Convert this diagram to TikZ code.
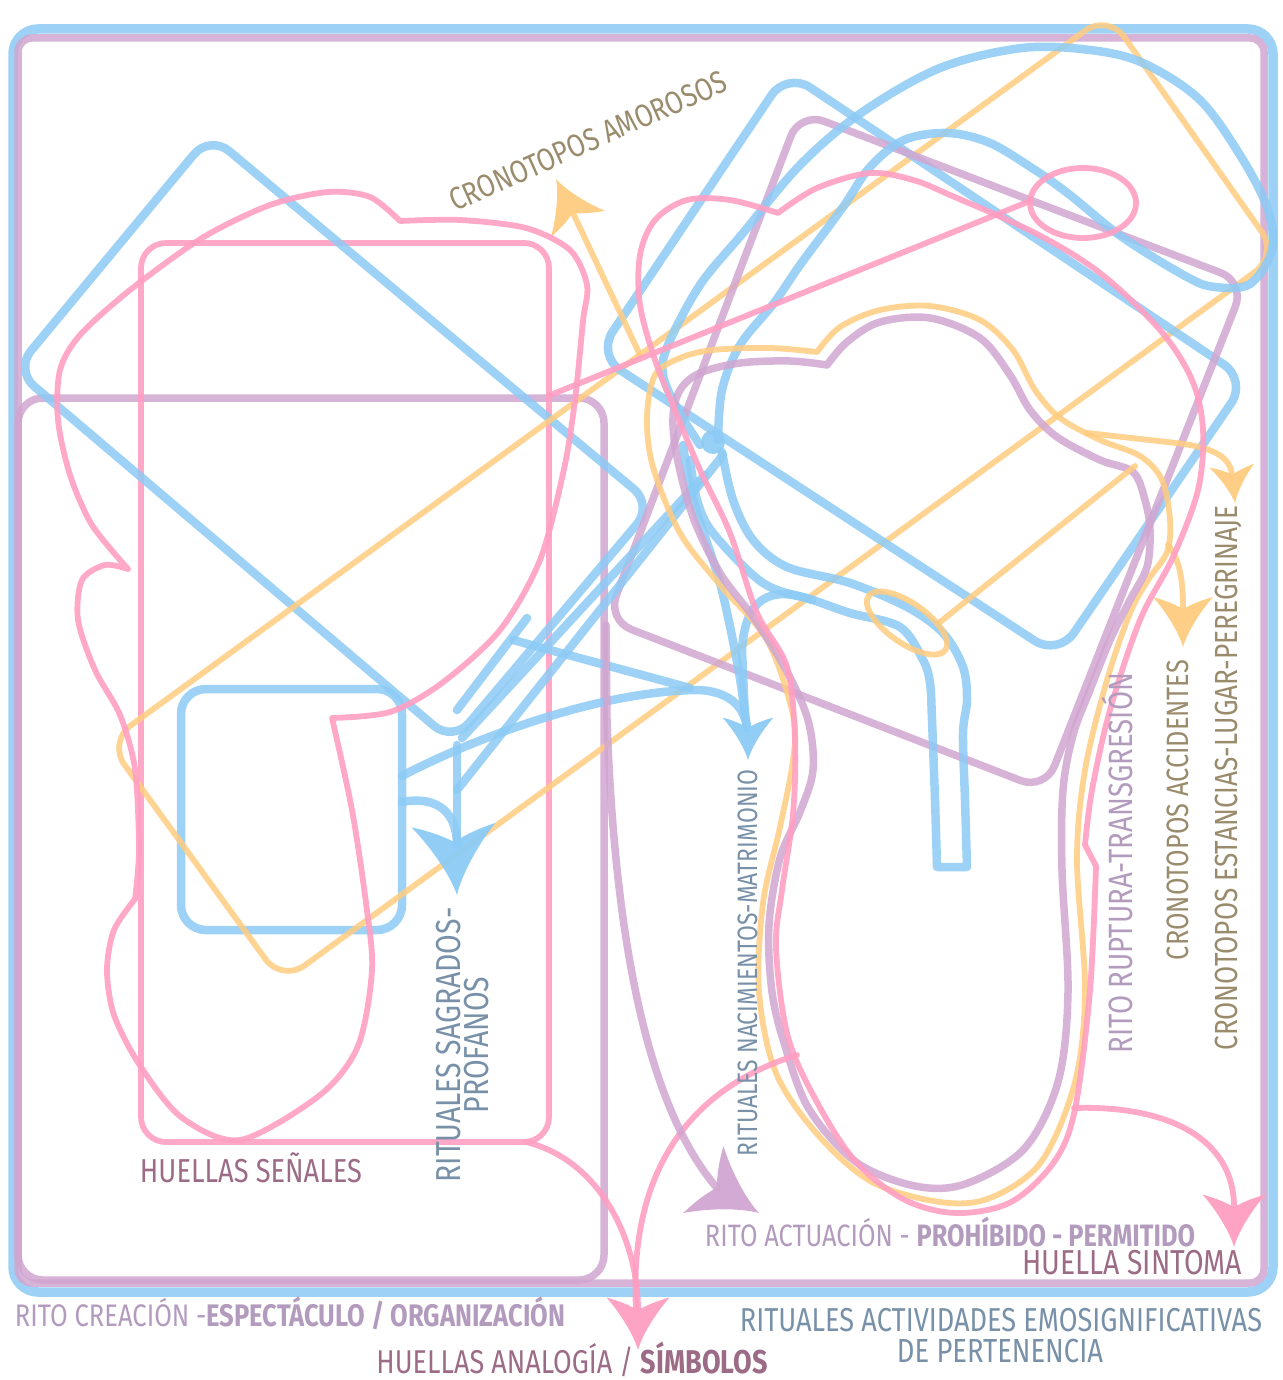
\documentclass[tikz,border=0pt]{standalone}
\usepackage{fontspec}
\setmainfont[FakeStretch=0.82]{Fira Sans}
\usepackage{graphicx}
\definecolor{cBlue}{HTML}{8CCBF5}
\definecolor{cPink}{HTML}{FF9FC2}
\definecolor{cPurp}{HTML}{D1A6D1}
\definecolor{cOrng}{HTML}{FFCC80}
\definecolor{tBrown}{HTML}{9A8B6C}
\definecolor{tBlue}{HTML}{7891A8}
\definecolor{tPurp}{HTML}{B39BBE}
\definecolor{tMauve}{HTML}{9C6C86}
\newcommand\ahd[4]{\fill[#3,fill opacity=0.95,shift={#1},rotate=#2,scale=#4] (0,0) .. controls (-14,-4) and (-34,-16) .. (-50,-30) .. controls (-45,-12) and (-40,-4) .. (-38,0) .. controls (-40,4) and (-45,12) .. (-50,30) .. controls (-34,16) and (-14,4) .. (0,0) -- cycle;}
\newcommand\fitt[2]{\resizebox{#1}{!}{#2}}
\begin{document}
\begin{tikzpicture}[x=1pt,y=-1pt,line cap=round,line join=round,
  bl/.style={draw=cBlue,line width=8.5pt,draw opacity=0.85},
  pu/.style={draw=cPurp,line width=7.5pt,draw opacity=0.85},
  pk/.style={draw=cPink,line width=5.8pt,draw opacity=0.9},
  og/.style={draw=cOrng,line width=5.8pt,draw opacity=0.85},
  lbl/.style={inner sep=0pt,outer sep=0pt}]
\useasboundingbox (0,0) rectangle (1282,1380);
\fill[white] (0,0) rectangle (1282,1380);

% outer frames
\draw[bl,line width=9.5pt,rounded corners=25pt] (13,29) rectangle (1273,1292);
\draw[pu,rounded corners=14pt] (18,38) rectangle (1264,1283);
% purple left box
\draw[pu,rounded corners=25pt] (18,398) rectangle (604,1280);
% pink rectangle
\draw[pk,rounded corners=25pt] (141,243) rectangle (549,1142);
% small blue box
\draw[bl,rounded corners=25pt] (181,689) rectangle (402,930);
% left blue rotated rectangle
\draw[bl,rounded corners=25pt] (431,320) -- (653,505) -- (453,742) -- (15,370) -- (210,135) -- cycle;
% orange big rotated rectangle
\draw[og,rounded corners=28pt] (608,378) -- (1108,14) -- (1278,255) -- (282,982) -- (108,742) -- cycle;
% right blue rotated rectangle
\draw[bl,rounded corners=28pt] (1017,226) -- (1247,380) -- (1058,656) -- (597,355) -- (787,72) -- cycle;
% purple right rotated rectangle
\draw[pu,rounded corners=26pt] (1022,197) -- (1245,282) -- (1045,790) -- (607,620) -- (800,112) -- cycle;

% big blue loop
\draw[bl] plot[smooth,tension=0.55] coordinates {(700,445) (678,410) (663,375) (668,345) (700,285) (743,233) (800,165) (861,113) (940,68) (1022,48) (1090,50) (1143,63) (1200,100) (1243,160) (1268,210) (1272,250) (1250,284) (1215,287) (1187,277) (1122,237) (1070,195) (1035,170) (990,143) (948,133) (904,140) (870,167) (843,207) (800,265) (774,303) (740,345) (722,390) (718,440)};
% blue hairpin tube
\draw[bl] plot[smooth,tension=0.55] coordinates {(722,452) (733,500) (753,540) (787,567) (850,583) (907,607) (943,633) (963,667) (967,700) (963,733) (965,800) (967,867)} -- (937,867) -- plot[smooth,tension=0.55] coordinates {(937,867) (935,800) (932,720) (930,683) (923,660) (900,627) (850,613) (813,600) (763,583) (713,533) (697,500) (690,460)};
\draw[bl] (812,600) .. controls (770,585) and (745,598) .. (742,650) -- (745,718);
\fill[cBlue,fill opacity=0.9] (713,442) circle (12);

% blue arrow lines (rituales)
\coordinate (tipNac) at (748,760);
\coordinate (tipSag) at (457,895);
\draw[bl] plot[smooth,tension=0.5] coordinates {(683,445) (693,500) (720,583) (738,667) (747,728)};
\draw[bl] (402,776) .. controls (470,740) and (600,690) .. (700,690) .. controls (728,692) and (744,705) .. (747,728);
\draw[bl] (513,640) -- (690,688);
\draw[bl] (527,618) -- (457,710);
\draw[bl] (462,738) -- (705,475);
\draw[bl] (457,790) -- (723,455);
\draw[bl] (457,745) -- (457,845);
\draw[bl] (402,802) .. controls (440,795) and (457,815) .. (457,845);
\ahd{(tipSag)}{-87}{cBlue}{1.4}
\ahd{(tipNac)}{-90}{cBlue}{0.85}

% orange tongue
\draw[og] plot[smooth,tension=0.55] coordinates {(817,352) (840,327) (880,310) (930,306) (980,320) (1013,350) (1035,390) (1060,418) (1100,440) (1140,456) (1162,480) (1170,520) (1167,552) (1148,580) (1130,613) (1107,680) (1085,770) (1077,860) (1085,990) (1075,1082) (1041,1162) (990,1198) (940,1202) (872,1182) (818,1135) (776,1073) (759,992) (763,903) (780,827) (793,760) (793,715) (767,640) (720,585) (680,533) (653,467) (647,417) (655,375) (680,358) (713,350) (770,348) (817,352)} -- cycle;
% purple tongue
\draw[pu] plot[smooth,tension=0.55] coordinates {(827,365) (847,342) (880,322) (930,318) (980,338) (1010,375) (1030,410) (1057,437) (1100,460) (1133,472) (1145,500) (1150,530) (1147,567) (1130,600) (1110,640) (1090,690) (1073,735) (1063,790) (1062,870) (1068,992) (1058,1082) (1024,1149) (965,1184) (915,1186) (856,1162) (809,1109) (785,1046) (772,992) (769,925) (780,858) (800,812) (813,770) (808,720) (785,668) (753,617) (720,573) (693,517) (677,457) (673,417) (680,390) (700,373) (740,363) (790,361) (827,365)} -- cycle;

% orange extras
\coordinate (tipAmor) at (556,179);
\coordinate (tipAcc) at (1183,647);
\coordinate (tipEst) at (1235,503);
\draw[og] (640,355) -- (573,213);
\ahd{(tipAmor)}{116}{cOrng}{1}
\draw[og] (1087,433) -- (1167,442) .. controls (1210,446) and (1230,455) .. (1232,475);
\ahd{(tipEst)}{-85}{cOrng}{0.75}
\draw[og] (1168,545) .. controls (1180,560) and (1183,580) .. (1183,609);
\ahd{(tipAcc)}{-90}{cOrng}{1}
\draw[og] (1135,466) -- (940,622);
\draw[og,rotate around={-35:(907,623)}] (907,623) ellipse [x radius=47,y radius=20];

% pink right shape
\draw[pk] plot[smooth,tension=0.55] coordinates {(778,213) (817,188) (870,173) (913,180) (950,195) (1035,233) (1100,273) (1160,330) (1192,380) (1203,430) (1198,490) (1173,557) (1140,620) (1110,710) (1092,790) (1085,845)} -- (1096,866) -- plot[smooth,tension=0.55] coordinates {(1096,866) (1090,990) (1075,1109) (1054,1162) (1011,1202) (957,1213) (905,1200) (856,1162) (818,1104) (788,1037) (776,948) (782,890) (793,814) (795,740) (787,667) (757,613) (730,533) (700,470) (675,410) (655,360) (640,305) (640,255) (655,220) (687,200) (730,200) (778,213)} -- cycle;
% pink left shape
\draw[pk] plot[smooth,tension=0.5] coordinates {(128,569) (92,525) (70,475) (58,420) (60,370) (80,335) (130,290) (202,238) (270,205) (328,192) (370,197) (400,221)} -- plot[smooth,tension=0.5] coordinates {(400,221) (460,220) (526,228) (570,250) (587,285) (583,321) (575,400) (564,469) (540,560) (500,630) (442,683) (390,712) (332,718)} -- plot[smooth,tension=0.5] coordinates {(332,718) (352,810) (366,903) (372,970) (358,1046) (320,1095) (240,1140) (181,1117) (139,1064) (114,1015) (107,970) (114,930) (135,899)} -- plot[smooth,tension=0.5] coordinates {(135,899) (139,850) (135,769) (120,715) (95,670) (78,620) (82,580) (105,565) (128,569)} -- cycle;
% pink ellipse and line
\draw[pk] (1083,203) ellipse [x radius=53,y radius=35];
\draw[pk] (548,396) -- (1030,201);

% pink arrows
\coordinate (tipAnal) at (638,1350);
\coordinate (tipSint) at (1234,1247);
\draw[pk] (526,1142) .. controls (600,1160) and (638,1240) .. (638,1310);
\draw[pk] (797,1055) .. controls (700,1085) and (628,1160) .. (636,1310);
\ahd{(tipAnal)}{-90}{cPink}{1.05}
\draw[pk] (1074,1108) .. controls (1170,1105) and (1234,1140) .. (1234,1207);
\ahd{(tipSint)}{-90}{cPink}{1.05}

% purple arrow
\coordinate (tipAct) at (759,1213);
\draw[pu] (606,625) -- (607,720) .. controls (615,950) and (650,1110) .. (717,1188);
\ahd{(tipAct)}{-31}{cPurp}{1.3}

% labels
\node[lbl,text=tBrown,rotate=24] (tAmor) at (588,141) {\fitt{300pt}{CRONOTOPOS AMOROSOS}};
\node[lbl,text=tMauve] (tSenal) at (251,1168) {\fitt{222pt}{HUELLAS SEÑALES}};
\node[lbl,text=tBlue,rotate=90] (tSagr) at (466,1045) {\fitt{275pt}{\begin{tabular}{@{}c@{}}RITUALES SAGRADOS-\\[-4pt]PROFANOS\end{tabular}}};
\node[lbl,text=tBlue,rotate=90] (tNac) at (748,963) {\fitt{387pt}{RITUALES NACIMIENTOS-MATRIMONIO}};
\node[lbl,text=tPurp,rotate=90] (tRupt) at (1117,863) {\fitt{380pt}{RITO RUPTURA-TRANSGRESIÓN}};
\node[lbl,text=tBrown,rotate=90] (tAcc) at (1178,810) {\fitt{300pt}{CRONOTOPOS ACCIDENTES}};
\node[lbl,text=tBrown,rotate=90] (tEst) at (1228,778) {\fitt{545pt}{CRONOTOPOS ESTANCIAS-LUGAR-PEREGRINAJE}};
\node[lbl,text=tPurp] (tAct) at (950,1232) {\fitt{490pt}{RITO ACTUACIÓN - \bfseries PROHÍBIDO - PERMITIDO}};
\node[lbl,text=tMauve] (tSint) at (1132,1263) {\fitt{220pt}{HUELLA SINTOMA}};
\node[lbl,text=tPurp] (tCrea) at (290,1313) {\fitt{550pt}{RITO CREACIÓN -\bfseries ESPECTÁCULO / ORGANIZACIÓN}};
\node[lbl,text=tMauve] (tAnal) at (572,1359) {\fitt{391pt}{HUELLAS ANALOGÍA / \bfseries SÍMBOLOS}};
\node[lbl,text=tBlue] (tEmo) at (1001,1320) {\fitt{522pt}{RITUALES ACTIVIDADES EMOSIGNIFICATIVAS}};
\node[lbl,text=tBlue] (tPert) at (1000,1351) {\fitt{206pt}{DE PERTENENCIA}};
\end{tikzpicture}
\end{document}
